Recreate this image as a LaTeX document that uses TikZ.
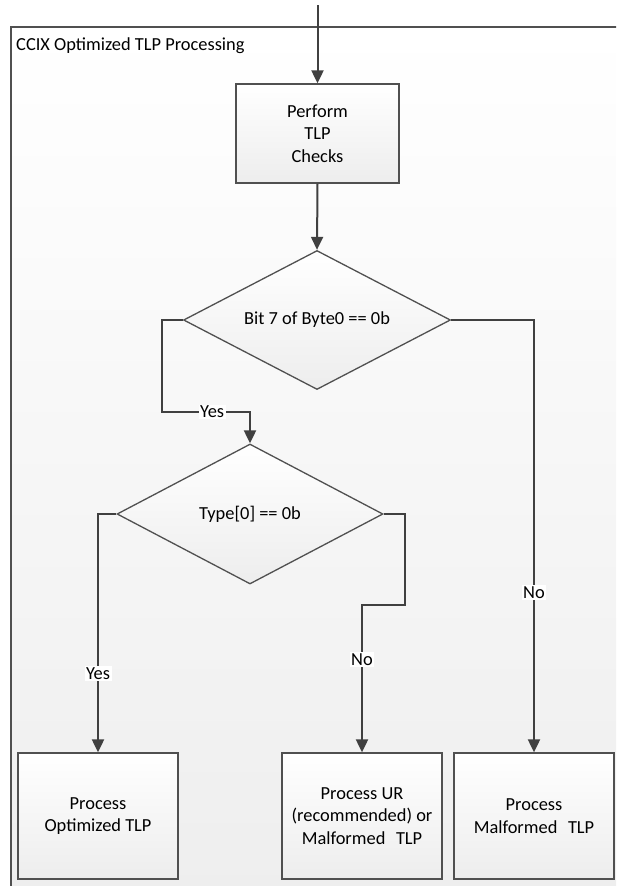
\documentclass[tikz,border=0pt]{standalone}
\usepackage{fontspec}
\setmainfont{Carlito}
\usetikzlibrary{shapes.geometric,arrows.meta}
\definecolor{lineclr}{HTML}{404040}
\definecolor{edgeclr}{HTML}{505050}
\definecolor{shadeend}{HTML}{EDEDED}
\definecolor{panelend}{HTML}{EEEEEE}
\begin{document}
\begin{tikzpicture}[x=1pt,y=-1pt,
  every node/.style={font=\fontsize{18.4}{22.7}\selectfont, text=black},
  procbox/.style={rectangle, draw=edgeclr, line width=1.3pt, top color=white,
    bottom color=shadeend, align=center, inner sep=0pt},
  decision/.style={diamond, draw=edgeclr, line width=1.3pt, top color=white,
    bottom color=shadeend, align=center, inner sep=0pt, aspect=1.92,
    minimum width=267pt, minimum height=139pt},
  conn/.style={draw=lineclr, line width=2pt, -{Triangle[length=13pt,width=12pt]}},
  lbl/.style={fill=white, inner sep=1.5pt}]

\useasboundingbox (0,0) rectangle (616,886);
\fill[white] (0,0) rectangle (616,886);

% processing panel, running off the right and bottom edges
\begin{scope}
  \clip (0,0) rectangle (616,886);
  \shade[top color=white, bottom color=panelend] (11,27) rectangle (640,900);
  \draw[edgeclr, line width=1.4pt] (11,900) -- (11,27) -- (640,27);
\end{scope}
\node[anchor=base west, inner sep=0pt] (title) at (16,50) {CCIX Optimized TLP Processing};

% process boxes and decisions
\node[procbox, minimum width=163pt, minimum height=99pt] (checks) at (317.5,133.5)
  {Perform\\TLP\\Checks};
\node[decision] (bit7) at (317,320) {Bit 7 of Byte0 == 0b};
\node[decision, minimum width=266pt, minimum height=140pt] (type0) at (250,514)
  {Type[0] == 0b};
\node[procbox, minimum width=160pt, minimum height=126pt] (opt) at (98,816)
  {Process\\Optimized TLP};
\node[procbox, minimum width=160pt, minimum height=126pt] (ur) at (362,816)
  {Process UR\\(recommended) or\\Malformed\hspace{0.35em} TLP};
\node[procbox, minimum width=160pt, minimum height=126pt] (mal) at (534,816)
  {Process\\Malformed\hspace{0.35em} TLP};

% entry point
\coordinate (entry) at (317.5,5);

% connectors
\draw[conn] (entry) -- (checks.north);
\draw[conn] (checks.south) -- (bit7.north);
\draw[conn] (bit7.west) -- (162,320) -- (162,412)
  -- node[lbl, pos=0.57] {Yes} (250,412) -- (type0.north);
\draw[conn] (bit7.east) -- (534,320)
  -- node[lbl, pos=0.63] {No} (mal.north);
\draw[conn] (type0.west) -- (98,514)
  -- node[lbl, pos=0.67] {Yes} (opt.north);
\draw[conn] (type0.east) -- (405,514) -- (405,605) -- (362,605)
  -- node[lbl, pos=0.37] {No} (ur.north);
\end{tikzpicture}
\end{document}
